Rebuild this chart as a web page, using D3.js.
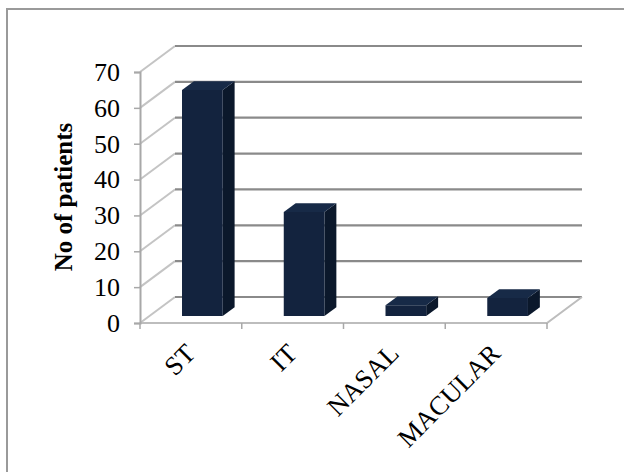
<!DOCTYPE html>
<html>
<head>
<meta charset="utf-8">
<script src="https://cdn.jsdelivr.net/npm/d3@7"></script>
<style>
  html, body { margin: 0; padding: 0; background: #fff; }
  svg text { font-family: 'Liberation Serif', 'Times New Roman', serif; }
</style>
</head>
<body>
<div id="chart"></div>
<script>
// values
const categories = ['ST', 'IT', 'NASAL', 'MACULAR']
const patients = [63, 29, 3, 5]
const yTicks = [0, 10, 20, 30, 40, 50, 60, 70]

const width = 624
const height = 472

// front plane of the 3d box
const left = 140
const right = 547
const floorY = 323
const topY = 72
// offset to the back wall
const DX = 35
const DY = 26
// bar depth inside the box
const d1 = 0.27
const d2 = 0.61

const svg = d3
  .select('#chart')
  .append('svg')
  .attr('width', width)
  .attr('height', height)

// outer frame (only top + left visible, cropped picture)
svg.append('path')
  .attr('d', `M7,${height} L7,9 L${width},9`)
  .attr('fill', 'none')
  .attr('stroke', '#9a9a9a')
  .attr('stroke-width', 2)

const x = d3.scaleBand().domain(categories).range([left, right])
const y = d3.scaleLinear().domain([0, 70]).range([floorY, topY])

function proj(xf, v, d) {
  return [xf + d * DX, y(v) - d * DY]
}

const g = svg.append('g')

// left wall diagonals
g.selectAll('.wall')
  .data(yTicks)
  .enter()
  .append('line')
  .attr('x1', left)
  .attr('y1', (d) => y(d))
  .attr('x2', left + DX)
  .attr('y2', (d) => y(d) - DY)
  .attr('stroke', '#c4c4c4')
  .attr('stroke-width', 2)

// back wall gridlines
g.selectAll('.grid')
  .data(yTicks)
  .enter()
  .append('line')
  .attr('x1', left + DX)
  .attr('y1', (d) => y(d) - DY)
  .attr('x2', right + DX)
  .attr('y2', (d) => y(d) - DY)
  .attr('stroke', '#8a8a8a')
  .attr('stroke-width', 2.2)

// floor front edge + right diagonal
g.append('path')
  .attr('d', `M${left},${y(0)} L${right},${y(0)} L${right + DX},${y(0) - DY}`)
  .attr('fill', 'none')
  .attr('stroke', '#bdbdbd')
  .attr('stroke-width', 2)

// category ticks
g.selectAll('.xtick')
  .data(categories.map((c) => x(c)).concat([right]))
  .enter()
  .append('line')
  .attr('x1', (d) => d)
  .attr('x2', (d) => d)
  .attr('y1', y(0))
  .attr('y2', y(0) + 6)
  .attr('stroke', '#a8a8a8')
  .attr('stroke-width', 1.5)

// y axis
const yAxis = g.append('g')
  .attr('transform', `translate(${left},0)`)
  .call(d3.axisLeft(y).tickValues(yTicks).tickSize(6).tickPadding(14))
yAxis.select('.domain').attr('stroke', '#a8a8a8').attr('stroke-width', 2)
yAxis.selectAll('.tick line').attr('stroke', '#a8a8a8').attr('stroke-width', 1.5)
yAxis.selectAll('.tick text')
  .attr('font-size', 26)
  .attr('font-family', "'Liberation Serif', serif")
  .attr('fill', '#000')

// bars
const bw = x.bandwidth() * 0.4
const bars = g.selectAll('.bar')
  .data(categories.map((c, i) => ({ c, v: patients[i] })))
  .enter()
  .append('g')

const poly = (pts) => pts.map((p) => p.join(',')).join(' ')

bars.append('polygon')
  .attr('points', (d) => {
    const bx = x(d.c) + x.bandwidth() * 0.32
    return poly([proj(bx + bw, 0, d1), proj(bx + bw, 0, d2), proj(bx + bw, d.v, d2), proj(bx + bw, d.v, d1)])
  })
  .attr('fill', '#0b182b')

bars.append('polygon')
  .attr('points', (d) => {
    const bx = x(d.c) + x.bandwidth() * 0.32
    return poly([proj(bx, d.v, d1), proj(bx + bw, d.v, d1), proj(bx + bw, d.v, d2), proj(bx, d.v, d2)])
  })
  .attr('fill', '#172a47')

bars.append('polygon')
  .attr('points', (d) => {
    const bx = x(d.c) + x.bandwidth() * 0.32
    return poly([proj(bx, 0, d1), proj(bx + bw, 0, d1), proj(bx + bw, d.v, d1), proj(bx, d.v, d1)])
  })
  .attr('fill', '#13233e')

// category labels
g.selectAll('.xlabel')
  .data(categories)
  .enter()
  .append('text')
  .attr('transform', (d) => `translate(${x(d) + x.bandwidth() / 2 + 6},355) rotate(-45)`)
  .attr('text-anchor', 'end')
  .attr('font-size', 26.5)
  .attr('fill', '#000')
  .text((d) => d)

// y title
svg.append('text')
  .attr('transform', 'translate(72,197) rotate(-90)')
  .attr('text-anchor', 'middle')
  .attr('font-size', 25)
  .attr('font-weight', 'bold')
  .attr('fill', '#000')
  .text('No of patients')
</script>
</body>
</html>
